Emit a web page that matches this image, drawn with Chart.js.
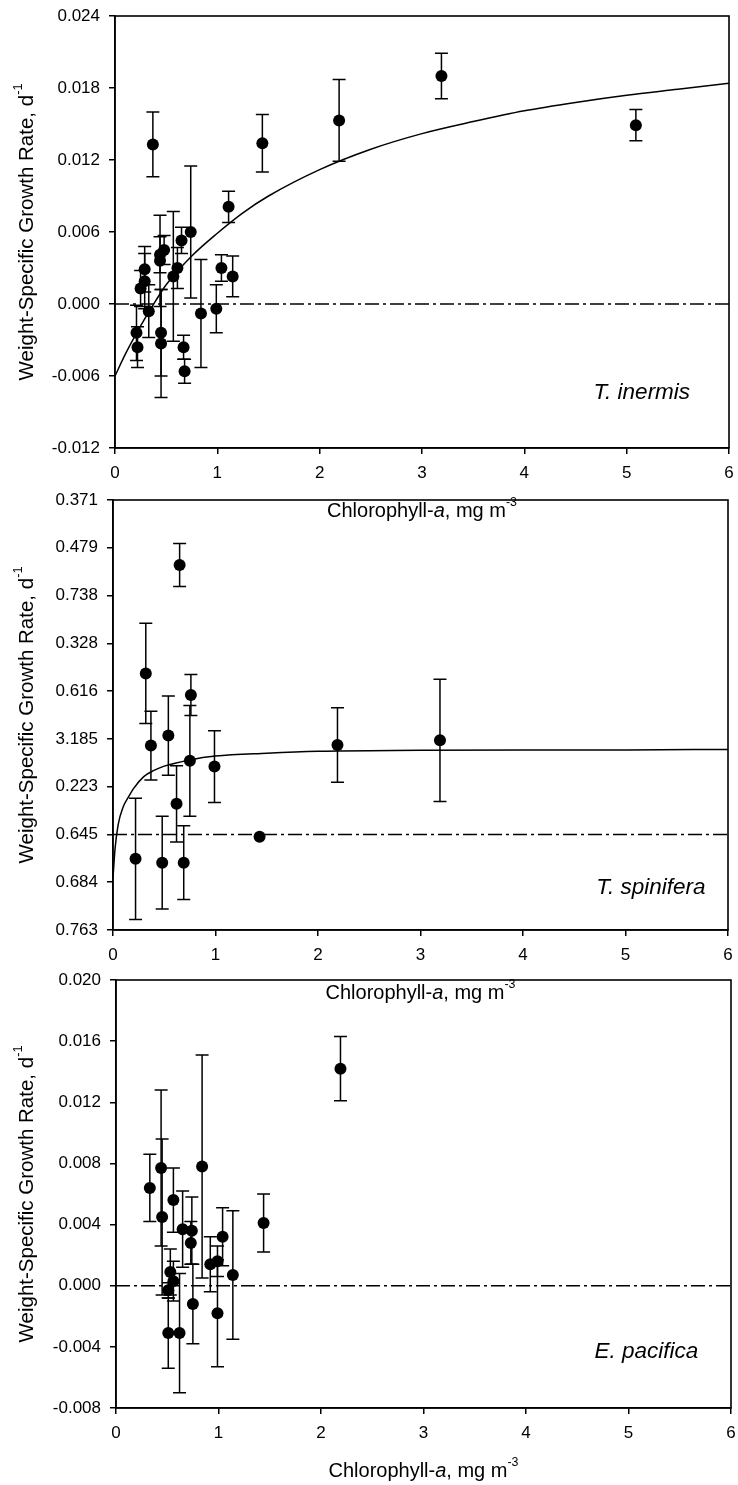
<!DOCTYPE html>
<html>
<head>
<meta charset="utf-8">
<script src="https://cdn.jsdelivr.net/npm/chart.js@4.4.1/dist/chart.umd.min.js"></script>
<style>
    body { margin: 0; background: #fff; }
    #wrap { position: relative; width: 738px; height: 1485px; }
    canvas { position: absolute; left: 0; }
</style>
</head>
<body>
<div id="wrap">
    <canvas id="c1" width="738" height="530" style="top:0px"></canvas>
    <canvas id="c2" width="738" height="530" style="top:484px"></canvas>
    <canvas id="c3" width="738" height="521" style="top:964px"></canvas>
</div>
<script>
// T. inermis: chlorophyll (mg m-3), growth rate (d-1), +/- error
const inermisChl = [0.21, 0.22, 0.25, 0.29, 0.29, 0.33, 0.37, 0.44, 0.44, 0.45, 0.45, 0.48, 0.57, 0.61, 0.65, 0.67, 0.68, 0.74, 0.84, 0.99, 1.04, 1.11, 1.15, 1.44, 2.19, 3.19, 5.09];
const inermisRate = [-0.0024, -0.0036, 0.0013, 0.0029, 0.0019, -0.0006, 0.0133, 0.0041, 0.0036, -0.0024, -0.0033, 0.0045, 0.0023, 0.0030, 0.0053, -0.0036, -0.0056, 0.0060, -0.0008, -0.0004, 0.0030, 0.0081, 0.0023, 0.0134, 0.0153, 0.0190, 0.0149];
const inermisErr = [0.0023, 0.0017, 0.0015, 0.0019, 0.0023, 0.0022, 0.0027, 0.0015, 0.0038, 0.0036, 0.0045, 0.0012, 0.0054, 0.0017, 0.0011, 0.0010, 0.0010, 0.0055, 0.0045, 0.0020, 0.0011, 0.0013, 0.0017, 0.0024, 0.0034, 0.0019, 0.0013];
const inermisFitChl = [0, 0.1, 0.2, 0.3, 0.4, 0.5, 0.75, 1, 1.25, 1.5, 2, 2.5, 3, 3.5, 4, 4.5, 5, 5.5, 6];
const inermisFitRate = [-0.0060, -0.0042, -0.0026, -0.0011, 0.0003, 0.0016, 0.0040, 0.0059, 0.0076, 0.0090, 0.0112, 0.0129, 0.0142, 0.0152, 0.0161, 0.0168, 0.0174, 0.0179, 0.0184];

// T. spinifera
const spiniferaChl = [0.22, 0.32, 0.37, 0.48, 0.54, 0.62, 0.65, 0.69, 0.75, 0.76, 0.99, 1.43, 2.19, 3.19];
const spiniferaRate = [-0.0051, 0.0337, 0.0186, -0.0059, 0.0207, 0.0064, 0.0564, -0.0059, 0.0154, 0.0292, 0.0142, -0.0005, 0.0187, 0.0197];
const spiniferaErr = [0.0127, 0.0105, 0.0072, 0.0097, 0.0083, 0.0080, 0.0045, 0.0077, 0.0116, 0.0043, 0.0075, 0, 0.0078, 0.0128];
const spiniferaFitChl = [0, 0.02, 0.05, 0.1, 0.15, 0.2, 0.3, 0.4, 0.5, 0.75, 1, 1.5, 2, 3, 4, 5, 6];
const spiniferaFitRate = [-0.0090, -0.0030, 0.0020, 0.0058, 0.0078, 0.0096, 0.0121, 0.0134, 0.0143, 0.0156, 0.0164, 0.0170, 0.0174, 0.0176, 0.0177, 0.0177, 0.0178];
// tick labels as printed on the middle panel, bottom to top
const spiniferaTickLabels = ['0.763', '0.684', '0.645', '0.223', '3.185', '0.616', '0.328', '0.738', '0.479', '0.371'];

// E. pacifica
const pacificaChl = [0.33, 0.44, 0.45, 0.51, 0.51, 0.53, 0.56, 0.56, 0.62, 0.65, 0.73, 0.74, 0.75, 0.84, 0.92, 0.99, 0.99, 1.04, 1.14, 1.44, 2.19];
const pacificaRate = [0.0064, 0.0077, 0.0045, -0.0003, -0.0031, 0.0009, 0.0056, 0.0003, -0.0031, 0.0037, 0.0028, 0.0036, -0.0012, 0.0078, 0.0014, 0.0016, -0.0018, 0.0032, 0.0007, 0.0041, 0.0142];
const pacificaErr = [0.0022, 0.0051, 0.0051, 0.0005, 0.0023, 0.0015, 0.0021, 0.0013, 0.0039, 0.0025, 0.0014, 0.0022, 0.0026, 0.0073, 0.0018, 0.0010, 0.0035, 0.0019, 0.0042, 0.0019, 0.0021];

const FONT = '"Liberation Sans", Arial, Helvetica, sans-serif';
const xTitle = [{ t: 'Chlorophyll-' }, { t: 'a', italic: true }, { t: ', mg m' }, { t: '-3', sup: true }];
const yTitle = [{ t: 'Weight-Specific Growth Rate, d' }, { t: '-1', sup: true }];

// text with italic / superscript pieces, centred on (cx, cy)
function richText(ctx, parts, cx, cy, size, vertical) {
    const fontOf = p => (p.italic ? 'italic ' : '') + (p.sup ? size * 0.62 : size) + 'px ' + FONT;
    ctx.save();
    ctx.translate(cx, cy);
    if (vertical) ctx.rotate(-Math.PI / 2);
    let total = 0;
    parts.forEach(p => { ctx.font = fontOf(p); p.w = ctx.measureText(p.t).width; total += p.w; });
    let x = -total / 2;
    ctx.fillStyle = '#000';
    ctx.textAlign = 'left';
    ctx.textBaseline = 'middle';
    parts.forEach(p => {
        ctx.font = fontOf(p);
        ctx.fillText(p.t, x, p.sup ? -size * 0.4 : 0);
        x += p.w;
    });
    ctx.restore();
}

function toPoints(xs, ys) {
    return xs.map((x, i) => ({ x: x, y: ys[i] }));
}

// error bars, frame, axis titles and species name
function panelExtras(points, errs, species, spX, spY) {
    return {
        id: 'panelExtras',
        beforeDatasetsDraw(chart) {
            const { ctx, scales: { x, y } } = chart;
            ctx.save();
            ctx.strokeStyle = '#000';
            ctx.lineWidth = 1.5;
            points.forEach((p, i) => {
                if (!errs[i]) return;
                const px = x.getPixelForValue(p.x);
                const top = y.getPixelForValue(p.y + errs[i]);
                const bot = y.getPixelForValue(p.y - errs[i]);
                ctx.beginPath();
                ctx.moveTo(px, top); ctx.lineTo(px, bot);
                ctx.moveTo(px - 6.5, top); ctx.lineTo(px + 6.5, top);
                ctx.moveTo(px - 6.5, bot); ctx.lineTo(px + 6.5, bot);
                ctx.stroke();
            });
            ctx.restore();
        },
        afterDraw(chart) {
            const { ctx, chartArea: a, scales: { x, y } } = chart;
            ctx.save();
            ctx.strokeStyle = '#000';
            ctx.lineWidth = 1.6;
            ctx.strokeRect(a.left, a.top, a.right - a.left, a.bottom - a.top);
            ctx.restore();
            richText(ctx, xTitle, (a.left + a.right) / 2, a.bottom + 63, 20, false);
            richText(ctx, yTitle, 27, (a.top + a.bottom) / 2, 20.5, true);
            ctx.save();
            ctx.font = 'italic 22.5px ' + FONT;
            ctx.fillStyle = '#000';
            ctx.textAlign = 'right';
            ctx.textBaseline = 'middle';
            ctx.fillText(species, x.getPixelForValue(spX), y.getPixelForValue(spY));
            ctx.restore();
        }
    };
}

function fmt(v) {
    return Math.abs(v) < 1e-9 ? '0.000' : v.toFixed(3);
}

function makeScales(yMin, yMax, yStep, yCallback, yWidth, xHeight) {
    const tickFont = { family: FONT, size: 17 };
    return {
        x: {
            type: 'linear', min: 0, max: 6,
            ticks: { stepSize: 1, color: '#000', font: tickFont, padding: 9, autoSkip: false, maxRotation: 0 },
            grid: { drawOnChartArea: false, drawTicks: true, tickLength: 6, color: '#000', tickColor: '#000', lineWidth: 1.5 },
            border: { display: true, color: '#000', width: 1.5 },
            // keep label overhang from pushing the plot edges in
            afterFit(s) { s.height = xHeight; s.paddingLeft = 0; s.paddingRight = 0; }
        },
        y: {
            type: 'linear', min: yMin, max: yMax,
            ticks: { stepSize: yStep, color: '#000', font: tickFont, padding: 9, autoSkip: false, callback: yCallback },
            grid: { drawOnChartArea: false, drawTicks: true, tickLength: 6, color: '#000', tickColor: '#000', lineWidth: 1.5 },
            border: { display: true, color: '#000', width: 1.5 },
            afterFit(s) { s.width = yWidth; s.paddingTop = 0; s.paddingBottom = 0; }
        }
    };
}

function makeDatasets(points, fitX, fitY) {
    const sets = [{
        type: 'scatter',
        data: points,
        pointRadius: 6,
        pointBackgroundColor: '#000',
        pointBorderWidth: 0
    }];
    if (fitX) {
        sets.push({
            type: 'line',
            data: toPoints(fitX, fitY),
            borderColor: '#000',
            borderWidth: 1.5,
            pointRadius: 0,
            fill: false,
            cubicInterpolationMode: 'monotone'
        });
    }
    // zero growth reference, dash-dot
    sets.push({
        type: 'line',
        data: [{ x: 0, y: 0 }, { x: 6, y: 0 }],
        borderColor: '#000',
        borderWidth: 1.6,
        borderDash: [14, 4, 3, 4],
        pointRadius: 0,
        fill: false
    });
    return sets;
}

function makeChart(id, datasets, scales, padding, extras) {
    return new Chart(document.getElementById(id).getContext('2d'), {
        type: 'scatter',
        data: { datasets: datasets },
        options: {
            responsive: false,
            animation: false,
            layout: { padding: padding },
            plugins: { legend: { display: false }, tooltip: { enabled: false } },
            scales: scales
        },
        plugins: [extras]
    });
}

// top panel
const inermisPts = toPoints(inermisChl, inermisRate);
makeChart('c1',
    makeDatasets(inermisPts, inermisFitChl, inermisFitRate),
    makeScales(-0.012, 0.024, 0.006, v => fmt(v), 115, 82),
    { top: 16, right: 9, left: 0, bottom: 0 },
    panelExtras(inermisPts, inermisErr, 'T. inermis', 5.62, -0.0074));

// middle panel
const spiniferaPts = toPoints(spiniferaChl, spiniferaRate);
makeChart('c2',
    makeDatasets(spiniferaPts, spiniferaFitChl, spiniferaFitRate),
    makeScales(-0.02, 0.07, 0.01, (v, i) => spiniferaTickLabels[i], 113, 84),
    { top: 16, right: 10, left: 0, bottom: 0 },
    panelExtras(spiniferaPts, spiniferaErr, 'T. spinifera', 5.78, -0.0112));

// bottom panel
const pacificaPts = toPoints(pacificaChl, pacificaRate);
makeChart('c3',
    makeDatasets(pacificaPts, null, null),
    makeScales(-0.008, 0.020, 0.004, v => fmt(v), 116, 77),
    { top: 16, right: 7, left: 0, bottom: 0 },
    panelExtras(pacificaPts, pacificaErr, 'E. pacifica', 5.68, -0.0043));
</script>
</body>
</html>
